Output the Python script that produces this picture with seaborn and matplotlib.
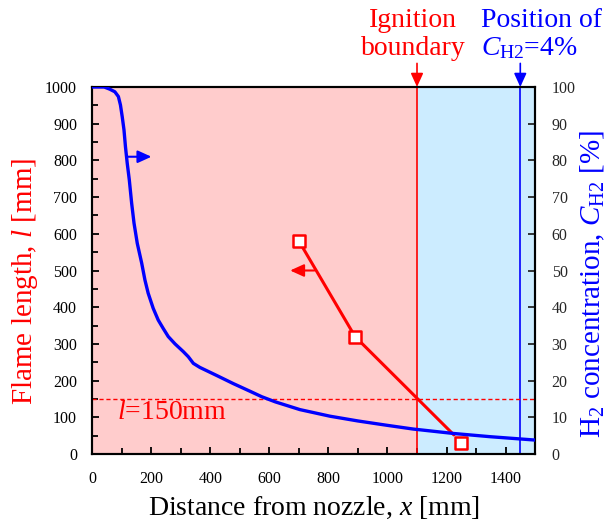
import numpy as np
import pandas as pd
import matplotlib
matplotlib.use("Agg")
import matplotlib.pyplot as plt
import seaborn as sns

# ---- data ----
h2_x = [0, 40, 59, 76, 88, 95, 101, 107, 112, 118, 125, 133, 141, 152, 167,
        178, 189, 206, 223, 240, 257, 280, 308, 325, 342, 364, 421, 477, 534,
        574, 620, 703, 805, 900, 1000, 1087, 1223, 1350, 1450, 1500]
h2_c = [100, 100, 99.4, 98.7, 97.4, 95.1, 91.9, 88.3, 83.7, 79.2, 74.7, 68.3,
        62.9, 57.4, 52.0, 47.4, 43.8, 39.7, 36.5, 34.2, 32.0, 30.0, 27.9, 26.5,
        24.7, 23.6, 21.4, 19.2, 17.1, 15.6, 14.2, 12.1, 10.3, 9.0, 7.8, 6.8,
        5.6, 4.7, 4.1, 3.8]
flame_x = [700, 890, 1250]
flame_l = [580, 320, 30]
trend_x = [700, 890, 1225]
trend_l = [580, 320, 52]
ignition_x = 1100
h2_4pct_x = 1450
l_threshold = 150
xticks = [0, 200, 400, 600, 800, 1000, 1200, 1400]

sns.set_theme(style="ticks")
plt.rcParams['font.family'] = ['Liberation Serif', 'DejaVu Serif']
plt.rcParams['mathtext.fontset'] = 'custom'
plt.rcParams['mathtext.rm'] = 'Liberation Serif'
plt.rcParams['mathtext.it'] = 'Liberation Serif:italic'

RED = '#FF0000'
BLUE = '#0000FF'
PINK = '#FFCCCC'
LBLUE = '#CCECFF'
FS = 20

fig = plt.figure(figsize=(6.08, 5.21), dpi=100)
ax = fig.add_axes([0.152, 0.1286, 0.728, 0.7044])
ax2 = ax.twinx()

ax.axvspan(0, ignition_x, color=PINK, lw=0, zorder=0)
ax.axvspan(ignition_x, 1500, color=LBLUE, lw=0, zorder=0)
ax.axvline(ignition_x, color=RED, lw=1.2, zorder=1)
ax.axvline(h2_4pct_x, color=BLUE, lw=1.2, zorder=1)
ax.axhline(l_threshold, color=RED, lw=1.0, ls=(0, (3, 2)), zorder=1)

df_f = pd.DataFrame({'x': trend_x, 'l': trend_l})
sns.lineplot(data=df_f, x='x', y='l', ax=ax, color=RED, lw=2.2, zorder=3)
df_m = pd.DataFrame({'x': flame_x, 'l': flame_l})
sns.scatterplot(data=df_m, x='x', y='l', ax=ax, marker='s', s=75,
                facecolor='white', edgecolor=RED, linewidth=1.8, zorder=4)

df_h = pd.DataFrame({'x': h2_x, 'c': h2_c})
sns.lineplot(data=df_h, x='x', y='c', ax=ax2, color=BLUE, lw=2.4, zorder=3)

ax.set_xlim(0, 1500)
ax.set_ylim(0, 1000)
ax2.set_ylim(0, 100)
ax.set_xticks(xticks)
ax.set_xticks(np.arange(0, 1501, 100), minor=True)
ax.set_yticks(np.arange(0, 1001, 100))
ax.set_yticks(np.arange(0, 1001, 50), minor=True)
ax2.set_yticks(np.arange(0, 101, 10))

for a in (ax, ax2):
    for s in a.spines.values():
        s.set_linewidth(1.5)
        s.set_color('black')
ax.tick_params(which='both', direction='in', width=1.3, labelsize=11.5, colors='black')
ax.tick_params(axis='x', which='major', length=5, pad=12)
ax.tick_params(axis='x', which='minor', length=4)
ax.tick_params(axis='y', which='major', length=5, pad=11)
ax.tick_params(axis='y', which='minor', length=4)
ax2.tick_params(direction='in', width=1.3, length=5, labelsize=11.5, pad=12)

ax.set_xlabel('Distance from nozzle, $x$ [mm]', fontsize=FS, color='black', labelpad=6)
ax.set_ylabel('Flame length, $l$ [mm]', fontsize=FS + 1, color=RED, va='center')
ax.yaxis.set_label_coords(-0.152, 0.471)
ax2.set_ylabel(r'H$_2$ concentration, $C_{\mathrm{H2}}$ [%]', fontsize=FS + 1,
               color=BLUE, va='center')
ax2.yaxis.set_label_coords(1.131, 0.463)
ax.set_zorder(0)
ax2.set_zorder(1)
ax2.patch.set_visible(False)

ax.text(83, 112, '$l$=150mm', fontsize=FS, color=RED, va='center', ha='left', zorder=5)

arrow_style = '-|>,head_length=0.55,head_width=0.25'
# direction arrows
ax.annotate('', xy=(670, 500), xytext=(752, 500),
            arrowprops=dict(arrowstyle=arrow_style, color=RED, lw=1.5,
                            mutation_scale=15, shrinkA=0, shrinkB=0), zorder=5)
ax2.annotate('', xy=(200, 81), xytext=(121, 81),
             arrowprops=dict(arrowstyle=arrow_style, color=BLUE, lw=1.5,
                             mutation_scale=15, shrinkA=0, shrinkB=0), zorder=5)

# top annotations
for xv, col in ((ignition_x, RED), (h2_4pct_x, BLUE)):
    ax.annotate('', xy=(xv, 1000), xycoords='data', xytext=(0, 17),
                textcoords='offset points',
                arrowprops=dict(arrowstyle=arrow_style, color=col, lw=1.2,
                                mutation_scale=15, shrinkA=0, shrinkB=0),
                annotation_clip=False)
fig.text(413/608, 1 - 27/521, 'Ignition', color=RED, fontsize=FS, ha='center', va='baseline')
fig.text(413/608, 1 - 55/521, 'boundary', color=RED, fontsize=FS, ha='center', va='baseline')
fig.text(481/608, 1 - 27/521, 'Position of', color=BLUE, fontsize=FS, ha='left', va='baseline')
fig.text(481/608, 1 - 55/521, r'$C_{\mathrm{H2}}$=4%', color=BLUE, fontsize=FS, ha='left', va='baseline')

fig.savefig('out.png', dpi=100)
